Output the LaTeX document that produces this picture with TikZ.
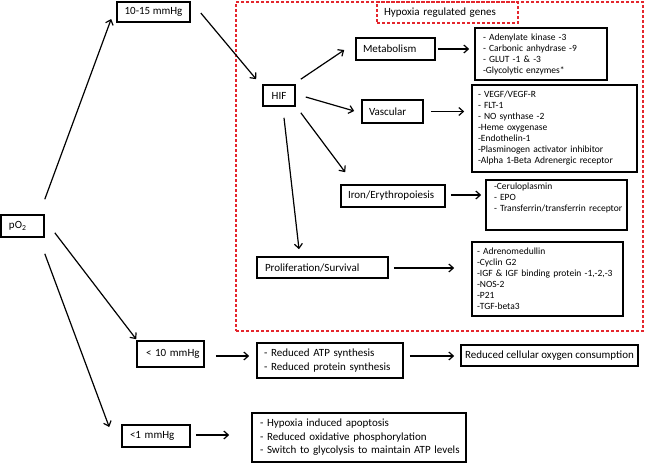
\documentclass[tikz,border=0pt]{standalone}
\usepackage{fontspec}
\setmainfont{Carlito}
\usetikzlibrary{arrows.meta,calc}
\definecolor{hred}{RGB}{228,38,45}
\tikzset{
  box/.style={draw=black, line width=1.6pt, inner xsep=0pt, inner ysep=0pt, align=left, font=\fontsize{11}{13.5}\selectfont},
  cbox/.style={draw=black, line width=1.6pt, inner xsep=0pt, inner ysep=0pt, align=center, font=\fontsize{11}{13.5}\selectfont},
  listbox/.style={draw=black, line width=1.6pt, inner xsep=0pt, inner ysep=0pt, align=left, font=\fontsize{9.5}{11}\selectfont},
  arr/.style={line width=1.2pt, -{Straight Barb[length=4.5pt,width=8pt]}},
  reddash/.style={draw=hred, line width=1.2pt, dash pattern=on 3pt off 2pt, inner sep=0pt},
}
\begin{document}
\begin{tikzpicture}[x=1pt,y=-1pt]
\useasboundingbox (0,0) rectangle (651,464);
% red region
\node[reddash, minimum width=407pt, minimum height=329pt] (genes) at (439.5,166.5) {};
\node[reddash, minimum width=141pt, minimum height=21pt, text width=127pt, align=left, font=\fontsize{11}{13.5}\selectfont] (hrg) at (447.5,12.5) {Hypoxia regulated genes};
% main boxes
\node[box, minimum width=43pt, minimum height=22pt, text width=27pt] (po2) at (22.5,226) {pO\textsubscript{2}};
\node[cbox, minimum width=73pt, minimum height=20pt] (t1015) at (153.5,12) {10-15 mmHg};
\node[cbox, minimum width=32pt, minimum height=21pt] (hif) at (279,95.5) {HIF};
\node[box, minimum width=79pt, minimum height=22pt, text width=65pt] (meta) at (395.5,49) {Metabolism};
\node[box, minimum width=61pt, minimum height=23pt, text width=47pt] (vasc) at (392.5,111.5) {Vascular};
\node[box, minimum width=104pt, minimum height=22pt, text width=90pt] (iron) at (393,196) {Iron/Erythropoiesis};
\node[box, minimum width=131pt, minimum height=21pt, text width=115pt] (prolif) at (322.5,267.5) {Proliferation/Survival};
\node[box, minimum width=67pt, minimum height=26pt, text width=49pt] (lt10) at (170.5,354) {\mbox{< 10 mmHg}};
\node[box, minimum width=68pt, minimum height=22pt, text width=52pt] (lt1) at (156,436) {\mbox{<1 mmHg}};
\node[box, minimum width=146pt, minimum height=35pt, text width=132pt] (atp) at (330,360.5) {\mbox{- Reduced ATP synthesis}\\\mbox{- Reduced protein synthesis}};
\node[cbox, minimum width=177pt, minimum height=21pt] (cons) at (549.5,355.5) {Reduced cellular oxygen consumption};
\node[box, minimum width=214pt, minimum height=49pt, text width=198pt] (apop) at (359,437.5) {\mbox{- Hypoxia induced apoptosis}\\\mbox{- Reduced oxidative phosphorylation}\\\mbox{- Switch to glycolysis to maintain ATP levels}};
% lists
\node[listbox, minimum width=132pt, minimum height=52pt, text width=116pt] (metalist) at (541,54) {\mbox{- Adenylate kinase -3}\\\mbox{- Carbonic anhydrase -9}\\\mbox{- GLUT -1 \& -3}\\\mbox{-Glycolytic enzymes*}};
\node[listbox, minimum width=165pt, minimum height=87pt, text width=153pt] (vasclist) at (554.5,128.5) {\mbox{- VEGF/VEGF-R}\\\mbox{- FLT-1}\\\mbox{- NO synthase -2}\\\mbox{-Heme oxygenase}\\\mbox{-Endothelin-1}\\\mbox{-Plasminogen activator inhibitor}\\\mbox{-Alpha 1-Beta Adrenergic receptor}};
\node[listbox, minimum width=141pt, minimum height=50pt, text width=125pt] (ironlist) at (556.5,205) {\mbox{-Ceruloplasmin}\\\mbox{- EPO}\\\mbox{- Transferrin/transferrin receptor}\\[5pt]\mbox{}};
\node[listbox, minimum width=151pt, minimum height=74pt, text width=141pt] (proliflist) at (547.5,279) {\mbox{- Adrenomedullin}\\\mbox{-Cyclin G2}\\\mbox{-IGF \& IGF binding protein -1,-2,-3}\\\mbox{-NOS-2}\\\mbox{-P21}\\\mbox{-TGF-beta3}};
% arrows
\draw[arr] ($(po2.north east)+(0,-15)$) -- ($(t1015.west)+(-5,7)$);
\draw[arr] ($(t1015.east)+(10,1)$) -- ($(hif.north west)+(-6,-5)$);
\draw[arr] ($(hif.north east)+(5,-5)$) -- ($(meta.west)+(-11,1)$);
\draw[arr] ($(hif.east)+(10,1.5)$) -- ($(vasc.west)+(-7,-0.5)$);
\draw[arr] ($(hif.south east)+(5,6)$) -- ($(iron.north west)+(5,-12)$);
\draw[arr] ($(hif.south)+(5,11)$) -- ($(prolif.north)+(-23.5,-7)$);
\draw[arr] ($(meta.east)+(2,0)$) -- ($(metalist.west)+(-5,-5)$);
\draw[arr] ($(vasc.east)+(7,0)$) -- ($(vasclist.west)+(-7,-17)$);
\draw[arr] ($(iron.east)+(5,-1)$) -- ($(ironlist.west)+(-4,-10)$);
\draw[arr] ($(prolif.east)+(5,0.5)$) -- ($(proliflist.west)+(-17,-11)$);
\draw[arr] ($(po2.south east)+(10,-5)$) -- ($(lt10.north west)+(0,-1)$);
\draw[arr] ($(po2.south east)+(0,16)$) -- ($(lt1.west)+(-12,-9)$);
\draw[arr] ($(lt10.east)+(11,2)$) -- ($(atp.west)+(-7,-4.5)$);
\draw[arr] ($(atp.east)+(6,-4.5)$) -- ($(cons.west)+(-6,0.5)$);
\draw[arr] ($(lt1.east)+(5,-1)$) -- ($(apop.west)+(-22,-2.5)$);
\end{tikzpicture}
\end{document}
